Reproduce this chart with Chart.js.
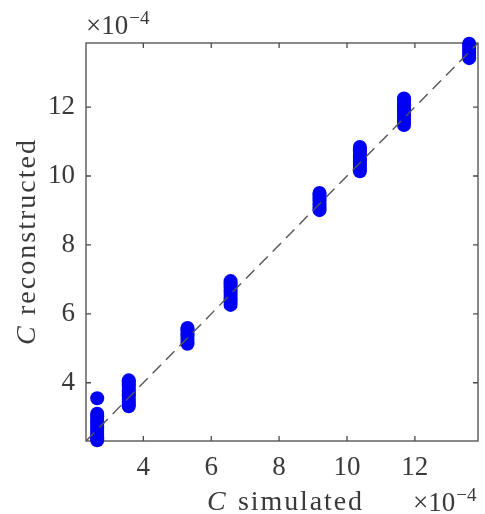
<!DOCTYPE html>
<html>
<head>
<meta charset="utf-8">
<script src="https://cdn.jsdelivr.net/npm/chart.js@4/dist/chart.umd.min.js"></script>
<style>
  html, body { margin: 0; padding: 0; background: #ffffff; }
  #wrap { position: relative; width: 485px; height: 514px; }
</style>
</head>
<body>
<div id="wrap"><canvas id="chart"></canvas></div>
<script>
// Simulated C values (x 1e-4), one per group of repeated reconstructions
const simulated = [2.64, 3.57, 5.30, 6.57, 9.19, 10.38, 11.68, 13.60];
// Reconstructed C values (x 1e-4) for each simulated value
const reconstructed = [
  [2.33, 2.39, 2.46, 2.52, 2.60, 2.67, 2.73, 2.81, 2.88, 2.95, 3.03, 3.10, 3.55],
  [3.32, 3.38, 3.46, 3.53, 3.61, 3.67, 3.75, 3.82, 3.89, 3.96, 4.02, 4.07],
  [5.13, 5.19, 5.27, 5.35, 5.42, 5.49, 5.55, 5.59],
  [6.26, 6.33, 6.41, 6.47, 6.55, 6.62, 6.69, 6.76, 6.83, 6.90, 6.95],
  [9.01, 9.08, 9.16, 9.22, 9.30, 9.37, 9.44, 9.51],
  [10.14, 10.21, 10.29, 10.35, 10.43, 10.50, 10.57, 10.64, 10.71, 10.78, 10.84],
  [11.48, 11.55, 11.63, 11.69, 11.77, 11.84, 11.91, 11.98, 12.05, 12.12, 12.19, 12.25],
  [13.42, 13.49, 13.56, 13.63, 13.70, 13.77, 13.84]
];
// Axis limits and tick labels (shared by both axes)
const axisLimits = [2.31, 13.86];
const tickValues = [4, 6, 8, 10, 12];

const points = [];
simulated.forEach((s, i) => reconstructed[i].forEach(r => points.push({ x: s, y: r })));

const TEXT = '#3a3a3a';
const AXIS = '#4a4a4a';
const SERIF = '"Liberation Serif", "DejaVu Serif", serif';

// Draw text stretched to a given width with letter spacing
function spacedText(ctx, str, x, y, width) {
  ctx.letterSpacing = '0px';
  const w = ctx.measureText(str).width;
  const extra = width ? (width - w) / Math.max(1, str.length) : 0;
  ctx.letterSpacing = extra.toFixed(2) + 'px';
  ctx.fillText(str, x, y);
  ctx.letterSpacing = '0px';
}

// "×10^-4" exponent marker
function multiplier(ctx, x, y) {
  ctx.textAlign = 'left';
  ctx.textBaseline = 'alphabetic';
  ctx.font = '27px ' + SERIF;
  ctx.fillText('\u00d710', x, y);
  const w = ctx.measureText('\u00d710').width;
  ctx.font = '19px ' + SERIF;
  ctx.fillText('\u22124', x + w + 1, y - 10);
}

const frame = {
  id: 'frame',
  beforeDatasetsDraw(chart) {
    const { ctx, chartArea: a, scales } = chart;
    ctx.save();
    ctx.strokeStyle = AXIS;
    ctx.lineWidth = 1.3;
    ctx.strokeRect(a.left, a.top, a.right - a.left, a.bottom - a.top);
    const tl = 5;
    ctx.beginPath();
    tickValues.forEach(v => {
      const px = scales.x.getPixelForValue(v);
      ctx.moveTo(px, a.bottom); ctx.lineTo(px, a.bottom - tl);
      ctx.moveTo(px, a.top); ctx.lineTo(px, a.top + tl);
      const py = scales.y.getPixelForValue(v);
      ctx.moveTo(a.left, py); ctx.lineTo(a.left + tl, py);
      ctx.moveTo(a.right, py); ctx.lineTo(a.right - tl, py);
    });
    ctx.stroke();
    ctx.restore();
  },
  afterDraw(chart) {
    const { ctx } = chart;
    ctx.save();
    ctx.fillStyle = TEXT;
    multiplier(ctx, 86, 34);
    multiplier(ctx, 413, 511);

    // x-axis title
    ctx.textBaseline = 'alphabetic';
    ctx.textAlign = 'left';
    ctx.font = 'italic 28px ' + SERIF;
    ctx.fillText('C', 207, 510);
    ctx.font = '28px ' + SERIF;
    spacedText(ctx, 'simulated', 238, 510, 126);

    // y-axis title (rotated)
    ctx.translate(35, 345);
    ctx.rotate(-Math.PI / 2);
    ctx.font = 'italic 28px ' + SERIF;
    ctx.fillText('C', 0, 0);
    ctx.font = '28px ' + SERIF;
    spacedText(ctx, 'reconstructed', 30, 0, 177);
    ctx.restore();
  }
};

new Chart(document.getElementById('chart'), {
  data: {
    datasets: [
      {
        type: 'line',
        data: [{ x: axisLimits[0], y: axisLimits[0] }, { x: axisLimits[1], y: axisLimits[1] }],
        borderColor: '#555555',
        borderWidth: 1.4,
        borderDash: [12, 7],
        pointRadius: 0,
        fill: false,
        order: 0
      },
      {
        type: 'scatter',
        data: points,
        backgroundColor: '#0000f5',
        borderWidth: 0,
        pointRadius: 7,
        pointHoverRadius: 7,
        clip: false,
        order: 1
      }
    ]
  },
  options: {
    responsive: true,
    maintainAspectRatio: false,
    animation: false,
    events: [],
    layout: { padding: { top: 43, right: 1, left: 0, bottom: 0 } },
    plugins: { legend: { display: false }, tooltip: { enabled: false } },
    scales: {
      x: {
        type: 'linear',
        min: axisLimits[0],
        max: axisLimits[1],
        grid: { display: false, drawTicks: false },
        border: { display: false },
        afterBuildTicks: s => { s.ticks = tickValues.map(v => ({ value: v })); },
        afterFit: s => { s.height = 73; },
        ticks: { color: TEXT, font: { family: SERIF, size: 27 }, padding: 11, maxRotation: 0, callback: v => String(v) }
      },
      y: {
        type: 'linear',
        min: axisLimits[0],
        max: axisLimits[1],
        grid: { display: false, drawTicks: false },
        border: { display: false },
        afterBuildTicks: s => { s.ticks = tickValues.map(v => ({ value: v })); },
        afterFit: s => { s.width = 86; },
        ticks: { color: TEXT, font: { family: SERIF, size: 27 }, padding: 11, callback: v => String(v) }
      }
    }
  },
  plugins: [frame]
});
</script>
</body>
</html>
